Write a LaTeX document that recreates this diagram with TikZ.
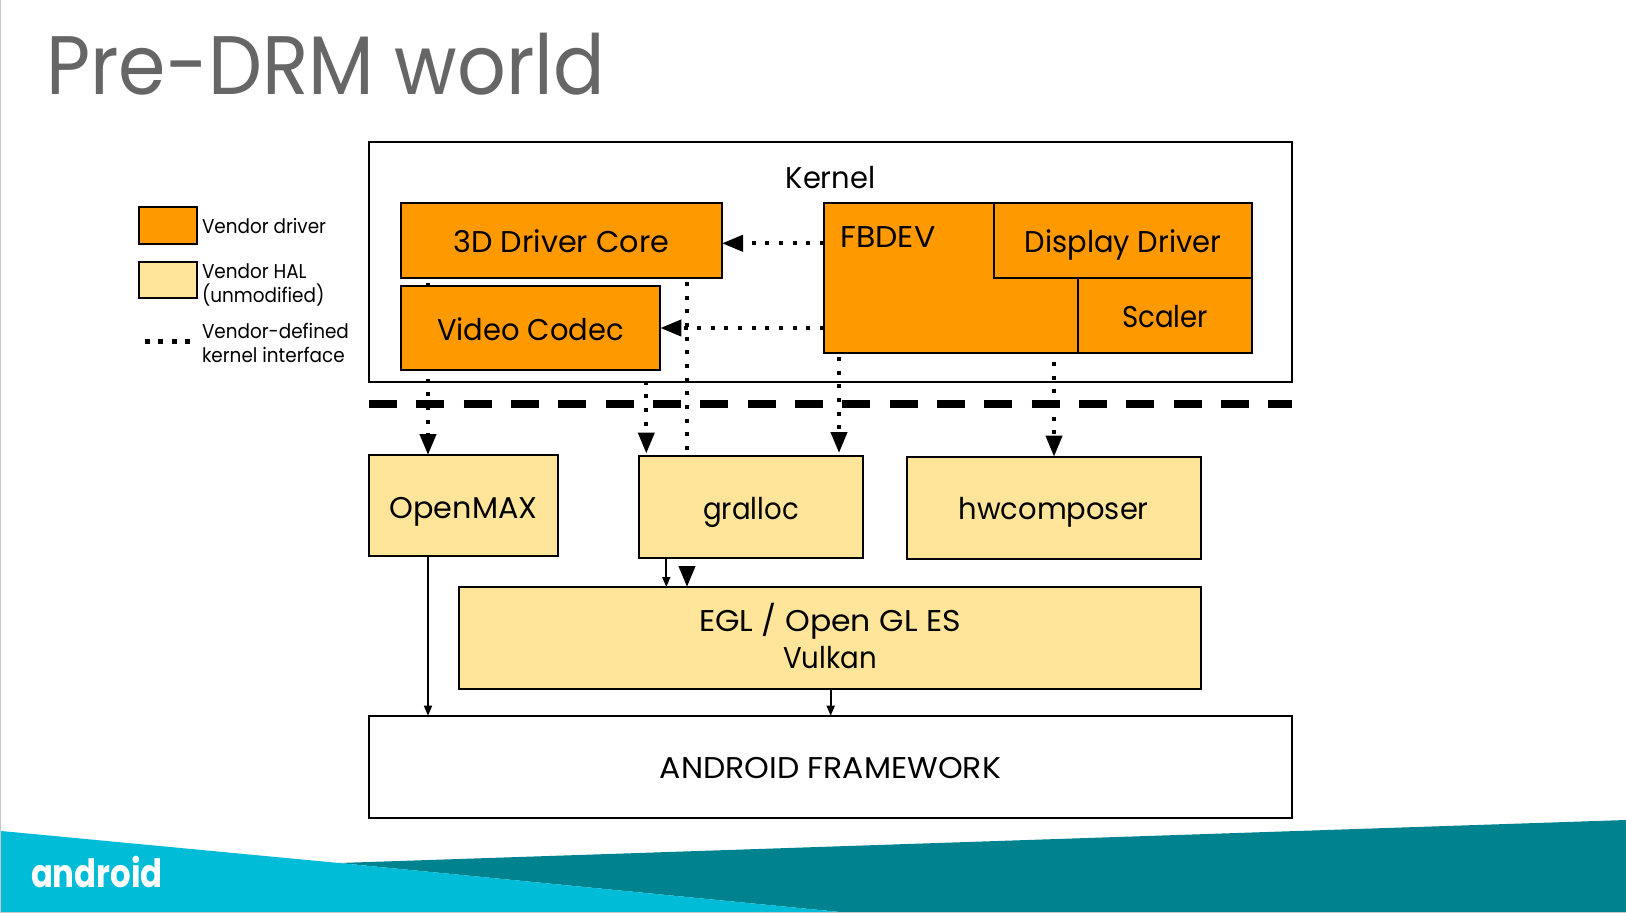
\documentclass[tikz,border=0pt]{standalone}
\usepackage{fontspec}
\setmainfont{Poppins}[FakeStretch=0.92]
\newfontfamily\fm{Poppins}[FakeStretch=0.965]
\newfontfamily\fd{Poppins}[FakeStretch=1.01]
\newfontfamily\fc{Poppins}[FakeStretch=1.05]
\newfontfamily\flogo{Poppins}[FakeStretch=0.83]
\usetikzlibrary{arrows.meta,backgrounds}
\pgfdeclarelayer{conn}
\pgfsetlayers{background,conn,main}
\definecolor{drv}{HTML}{FF9900}
\definecolor{hal}{HTML}{FFE599}
\definecolor{cy}{HTML}{00BCD6}
\definecolor{te}{HTML}{00838F}
\definecolor{ttl}{HTML}{666666}
\newcommand{\bigsize}{\fontsize{30}{36}\selectfont}
\tikzset{
 x=1pt,y=-1pt,
 box/.style={draw=black,line width=2.3pt,outer sep=0pt,inner sep=0pt,anchor=north west,font=\bigsize,align=center},
 vend/.style={box,fill=drv},
 vhal/.style={box,fill=hal},
 blank/.style={box,fill=none},
 wh/.style 2 args={minimum width=#1 pt,minimum height=#2 pt},
 tx/.style={inner sep=0pt,outer sep=0pt,anchor=base west},
 big/.style={tx,font=\bigsize},
 leg/.style={tx,font=\fontsize{20}{24}\selectfont},
 dotline/.style={line width=4pt,dash pattern=on 4pt off 9.65pt,black},
 dotarrow/.style={dotline,-{Triangle[length=21pt,width=16pt]}},
 solidarrow/.style={line width=1.7pt,black,-{Triangle[length=10pt,width=8pt]}},
 capfix/.style={text height=#1 pt,text depth=0pt},
}
\begin{document}
\begin{tikzpicture}
\useasboundingbox (0,0) rectangle (1626,913);
\begin{pgfonlayer}{background}
\fill[white] (0,0) rectangle (1626,913);
\draw[line width=1.2pt,black!22] (0.6,0) -- (0.6,912.4) -- (1626,912.4);
\fill[te] (339,863) -- (1626,820) -- (1626,911.8) -- (838,911.8) -- cycle;
\fill[cy] (1.2,831) -- (339,863) -- (838,911.8) -- (1.2,911.8) -- cycle;
\end{pgfonlayer}
\node[tx,text=white,font=\fontsize{39}{39}\flogo\bfseries] (logo) at (31,887) {android};
% title
\node[tx,text=ttl,font=\fontsize{83}{90}\selectfont] (title) at (46,94.5) {Pre-DRM world};
% kernel
\node[blank,wh={923}{240}] (kernel) at (369,142) {};
\node[big,anchor=base,font=\bigsize\fm] (kerneltxt) at (830.5,188.7) {Kernel};
\node[vend,wh={321.3}{75},capfix=24.5,font=\bigsize\fd] (core) at (400.7,202.7) {3D Driver Core};
\node[vend,wh={259.6}{83.7},capfix=25.5,font=\bigsize\fm] (video) at (400.7,286) {Video Codec};
\node[vend,wh={428}{149.7}] (fb) at (824,203.3) {};
\node[big,font=\bigsize\fc] (fbtxt) at (840.5,247.7) {FBDEV};
\node[vend,wh={258}{74.7},capfix=23,font=\bigsize\fm] (disp) at (994,203.3) {Display Driver};
\node[vend,wh={174}{75},capfix=23] (scal) at (1078,278) {Scaler};
% HAL
\node[vhal,wh={189}{100.7},capfix=25.5,font=\bigsize\fd] (omx) at (369,455) {OpenMAX};
\node[vhal,wh={224}{101.7},capfix=25] (gr) at (639,456) {gralloc};
\node[vhal,wh={294}{102.3},capfix=24,font=\bigsize\fm] (hw) at (906.7,456.7) {hwcomposer};
\node[vhal,wh={742}{102},text depth=4pt] (egl) at (459,587) {{\fc EGL / Open GL ES}\\[1.5pt]Vulkan};
\node[blank,wh={923}{102},capfix=23,font=\bigsize\fc] (fw) at (369,715.7) {ANDROID FRAMEWORK};
% boundary
\draw[line width=7.5pt,dash pattern=on 28pt off 19.33pt,black] (kernel.south west |- 0,404) coordinate (bl) -- (kernel.south east |- 0,404) coordinate (br);
% legend
\node[vend,wh={58.3}{37}] (l1) at (139,206.7) {};
\node[vhal,wh={58.3}{36.3}] (l2) at (139,261.7) {};
\coordinate (l3a) at (145,341.5);
\coordinate (l3b) at (191,341.5);
\draw[line width=5pt,dash pattern=on 5pt off 8.3pt] (l3a) -- (l3b);
\node[leg] (t1) at (202,233.7) {Vendor driver};
\node[leg] (t2) at (202,278.5) {Vendor HAL};
\node[leg] (t3) at (202,302.7) {(unmodified)};
\node[leg] (t4) at (202,338.7) {Vendor-defined};
\node[leg] (t5) at (202,362) {kernel interface};
% positions of connectors
\coordinate (xa) at (428,0);
\coordinate (xb) at (646.3,0);
\coordinate (xc) at (687,0);
\coordinate (xd) at (839,0);
\coordinate (xe) at (1054,0);
\coordinate (xf) at (666.3,0);
\coordinate (xg) at (830.7,0);
\coordinate (ya) at (0,243.3);
\coordinate (yb) at (0,328);
\begin{pgfonlayer}{conn}
\draw[dotarrow,shorten <=5.3pt] (xa |- core.south) -- (xa |- omx.north);
\draw[dotarrow,shorten <=11pt,shorten >=2.5pt] (xb |- video.south) -- (xb |- gr.north);
\draw[dotarrow,shorten <=4.3pt] (xc |- core.south) -- (xc |- egl.north);
\draw[dotarrow,shorten <=4pt,shorten >=3pt] (xd |- fb.south) -- (xd |- gr.north);
\draw[dotarrow,shorten <=9pt] (xe |- fb.south) -- (xe |- hw.north);
\draw[dotarrow] (fb.west |- ya) -- (core.east |- ya);
\draw[dotarrow] (fb.west |- yb) -- (video.east |- yb);
\draw[solidarrow] (xa |- omx.south) -- (xa |- fw.north);
\draw[solidarrow] (xf |- gr.south) -- (xf |- egl.north);
\draw[solidarrow] (xg |- egl.south) -- (xg |- fw.north);
\end{pgfonlayer}
\end{tikzpicture}
\end{document}
